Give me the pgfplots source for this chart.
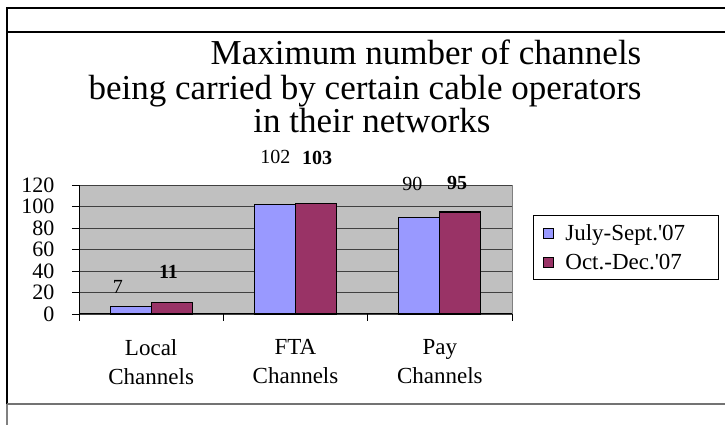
\documentclass[border=0pt]{standalone}
\usepackage{pgfplots}
\pgfplotsset{compat=1.18}
\usepackage{fontspec}
\setmainfont{Liberation Serif}
\definecolor{bggray}{HTML}{C0C0C0}
\definecolor{sblue}{HTML}{9999FF}
\definecolor{sred}{HTML}{993366}
\begin{document}
\begin{tikzpicture}[x=1pt,y=1pt]
\path[use as bounding box] (0,0) rectangle (725,425);
\draw[black, line width=1.2pt] (7,417) -- (725,417);
\draw[black, line width=1.2pt] (7,393) -- (725,393);
\draw[black, line width=1.2pt] (7,417.6) -- (7,21);
\draw[gray, line width=1.2pt] (7,21) -- (7,0);
\draw[black!55, line width=1.6pt] (7,21) -- (725,21);
\node[anchor=base, font=\fontsize{35}{36}\selectfont] at (426,425-65) {Maximum number of channels};
\node[anchor=base, font=\fontsize{35}{36}\selectfont] at (365,425-100) {being carried by certain cable operators};
\node[anchor=base, font=\fontsize{35}{36}\selectfont] at (372,425-133) {in their networks};
\begin{axis}[
 at={(79pt,111pt)}, anchor=south west, scale only axis, width=433pt, height=129pt,
 xmin=-0.5, xmax=2.5, ymin=0, ymax=120,
 ytick={0,20,...,120}, ymajorgrids, grid style={black!75, line width=0.8pt},
 xtick={0,1,2}, xticklabels={{Local\\Channels},{FTA\\Channels},{Pay\\Channels}},
 x tick label style={align=center, font=\fontsize{23}{29}\selectfont, yshift=-15pt},
 y tick label style={font=\fontsize{22}{22}\selectfont, xshift=-14pt},
 major x tick style={draw=none},
 minor xtick={-0.5,0.5,1.5,2.5},
 tick style={black, line width=0.8pt},
 tick align=outside, major tick length=7pt, minor tick length=7pt,
 axis x line*=bottom, axis y line*=left, axis line style={black, line width=1pt, -},
 axis background/.style={fill=bggray, draw=black!50, line width=0.8pt},
 clip=false,
 /pgf/number format/assume math mode=true,
 legend style={at={(1.0485,0.767)}, anchor=north west, draw=black, line width=0.8pt,
   font=\fontsize{23}{24}\selectfont, inner xsep=0pt, inner ysep=9pt, row sep=12pt,
   nodes={inner sep=0pt}, column sep=0pt, cells={anchor=west}},
]
\addplot[ybar, bar width=41pt, bar shift=-20.5pt, fill=sblue, draw=black, line width=1.3pt,
  legend image code/.code={\path[draw=none, fill=none] (0pt,0pt) -- (32pt,0pt); \draw[fill=sblue, draw=black, line width=1pt] (10pt,-5pt) rectangle (20pt,5pt);}]
  coordinates {(0,7) (1,102) (2,90)};
\addlegendentry{July-Sept.\textquotesingle07\rule{33pt}{0pt}}
\addplot[ybar, bar width=41pt, bar shift=20.5pt, fill=sred, draw=black, line width=1.3pt,
  legend image code/.code={\path[draw=none, fill=none] (0pt,0pt) -- (32pt,0pt); \draw[fill=sred, draw=black, line width=1pt] (10pt,-5pt) rectangle (20pt,5pt);}]
  coordinates {(0,11) (1,103) (2,95)};
\addlegendentry{Oct.-Dec.\textquotesingle07}
\addplot[draw=none, mark=none, forget plot, nodes near coords, point meta=explicit symbolic,
  every node near coord/.append style={anchor=center, font=\fontsize{20}{22}\selectfont}]
  coordinates {(-0.23,25)[7] (0.86,146)[102] (1.81,121)[90]};
\addplot[draw=none, mark=none, forget plot, nodes near coords, point meta=explicit symbolic,
  every node near coord/.append style={anchor=center, font=\fontsize{20}{22}\selectfont\bfseries}]
  coordinates {(0.12,39)[11] (1.15,145)[103] (2.12,122)[95]};
\end{axis}
\end{tikzpicture}
\end{document}
